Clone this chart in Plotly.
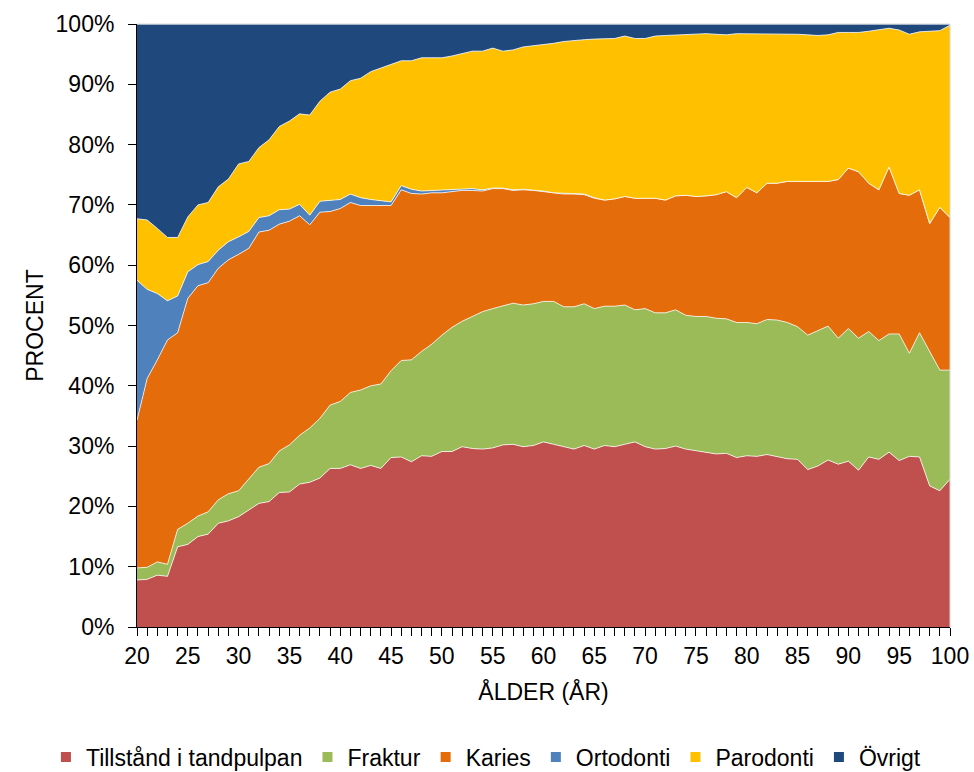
import plotly.graph_objects as go

ages = list(range(20, 101))

tillstand = [7.8, 7.9, 8.6, 8.4, 13.3, 13.7, 15.0, 15.4, 17.2, 17.6,
             18.3, 19.4, 20.5, 20.8, 22.3, 22.4, 23.7, 24.0, 24.7, 26.3,
             26.3, 26.9, 26.3, 26.8, 26.3, 28.1, 28.2, 27.4, 28.4, 28.3,
             29.1, 29.1, 29.9, 29.6, 29.5, 29.7, 30.2, 30.3, 29.9, 30.1,
             30.7, 30.3, 29.9, 29.5, 30.1, 29.5, 30.1, 29.9, 30.3, 30.7,
             29.9, 29.5, 29.6, 30.0, 29.5, 29.2, 29.0, 28.7, 28.8, 28.1,
             28.4, 28.3, 28.6, 28.2, 27.9, 27.8, 26.1, 26.7, 27.7, 27.0,
             27.5, 26.0, 28.2, 27.8, 29.0, 27.6, 28.3, 28.2, 23.4, 22.6,
             24.5]
fraktur = [2.0, 2.0, 2.2, 2.0, 2.9, 3.5, 3.4, 3.7, 3.9, 4.5,
           4.3, 5.1, 6.0, 6.3, 6.9, 7.8, 8.1, 9.0, 9.9, 10.5,
           11.1, 12.0, 13.0, 13.2, 14.0, 14.4, 16.0, 16.9, 17.3, 18.6,
           19.3, 20.6, 20.8, 21.9, 22.8, 23.1, 23.1, 23.4, 23.5, 23.5,
           23.3, 23.7, 23.2, 23.6, 23.5, 23.3, 23.1, 23.3, 23.1, 21.9,
           22.9, 22.6, 22.5, 22.6, 22.2, 22.3, 22.5, 22.5, 22.3, 22.4,
           22.1, 22.0, 22.4, 22.7, 22.6, 22.0, 22.3, 22.4, 22.2, 20.9,
           22.0, 21.9, 20.8, 19.7, 19.6, 21.0, 17.1, 20.6, 22.3, 20.0,
           18.1]
karies = [24.5, 31.3, 33.5, 37.2, 32.6, 37.3, 38.2, 38.0, 38.4, 38.8,
          39.2, 38.3, 39.0, 38.7, 37.6, 37.1, 36.4, 33.7, 34.2, 32.1,
          32.0, 31.5, 30.6, 29.9, 29.6, 27.4, 28.3, 27.6, 26.1, 25.1,
          23.6, 22.5, 21.7, 20.9, 20.0, 19.9, 19.4, 18.7, 19.1, 18.8,
          18.2, 17.9, 18.7, 18.7, 18.1, 18.3, 17.6, 17.8, 18.0, 18.5,
          18.3, 19.0, 18.7, 18.9, 19.9, 19.9, 20.0, 20.5, 21.1, 20.7,
          22.4, 21.7, 22.6, 22.7, 23.4, 24.1, 25.5, 24.8, 24.0, 26.3,
          26.6, 27.6, 24.6, 25.0, 27.7, 23.3, 26.2, 23.7, 21.2, 27.0,
          25.3]
ortodonti = [23.2, 14.8, 11.0, 6.5, 6.1, 4.4, 3.5, 3.5, 3.0, 3.0,
             2.9, 2.8, 2.4, 2.4, 2.4, 2.0, 1.9, 1.6, 1.8, 1.9,
             1.5, 1.4, 1.3, 1.0, 0.8, 0.6, 0.7, 0.7, 0.5, 0.4,
             0.4, 0.3, 0.3, 0.3, 0.2, 0.1, 0.1, 0.1, 0.1, 0.1,
             0.1, 0.1, 0.1, 0.1, 0.1, 0.1, 0.0, 0.0, 0.0, 0.0,
             0.0, 0.0, 0.0, 0.0, 0.0, 0.0, 0.0, 0.0, 0.0, 0.0,
             0.0, 0.0, 0.0, 0.0, 0.0, 0.0, 0.0, 0.0, 0.0, 0.0,
             0.0, 0.0, 0.0, 0.0, 0.0, 0.0, 0.0, 0.0, 0.0, 0.0,
             0.0]
parodonti = [10.2, 11.5, 10.8, 10.5, 9.7, 9.1, 9.9, 9.8, 10.5, 10.4,
             12.1, 11.6, 11.6, 12.6, 13.8, 14.6, 15.0, 16.6, 16.6, 17.9,
             18.3, 18.8, 19.8, 21.2, 22.0, 22.8, 20.7, 21.3, 22.1, 22.0,
             22.0, 22.2, 22.4, 22.8, 23.0, 23.2, 22.7, 23.2, 23.6, 23.9,
             24.2, 24.8, 25.2, 25.4, 25.6, 26.3, 26.8, 26.6, 26.6, 26.5,
             26.5, 26.9, 27.3, 26.7, 26.7, 26.9, 26.9, 26.6, 26.0, 27.2,
             25.5, 26.4, 24.8, 24.8, 24.4, 24.4, 24.3, 24.2, 24.3, 24.4,
             22.5, 23.1, 25.2, 26.5, 23.0, 27.1, 26.7, 26.2, 31.9, 29.3,
             31.9]
ovrigt = [32.3, 32.5, 33.9, 35.4, 35.4, 32.0, 30.0, 29.6, 27.0, 25.7,
          23.2, 22.8, 20.5, 19.2, 17.0, 16.1, 14.9, 15.1, 12.8, 11.3,
          10.8, 9.4, 9.0, 7.9, 7.3, 6.7, 6.1, 6.1, 5.6, 5.6,
          5.6, 5.3, 4.9, 4.5, 4.5, 4.0, 4.5, 4.3, 3.8, 3.6,
          3.5, 3.2, 2.9, 2.7, 2.6, 2.5, 2.4, 2.4, 2.0, 2.4,
          2.4, 2.0, 1.9, 1.8, 1.7, 1.7, 1.6, 1.7, 1.8, 1.6,
          1.6, 1.6, 1.6, 1.6, 1.7, 1.7, 1.8, 1.9, 1.8, 1.4,
          1.4, 1.4, 1.2, 1.0, 0.7, 1.0, 1.7, 1.3, 1.2, 1.1,
          0.2]

series = [
    ("Tillstånd i tandpulpan", tillstand, "#C0504D"),
    ("Fraktur", fraktur, "#9BBB59"),
    ("Karies", karies, "#E46C0A"),
    ("Ortodonti", ortodonti, "#4F81BD"),
    ("Parodonti", parodonti, "#FFC000"),
    ("Övrigt", ovrigt, "#1F497D"),
]

font = "Arial, Liberation Sans, sans-serif"
fsize = 23

fig = go.Figure()
for name, vals, col in series:
    fig.add_trace(go.Scatter(
        x=ages, y=vals, name=name, showlegend=False,
        mode="lines", stackgroup="one", groupnorm="percent",
        fillcolor=col,
        line=dict(width=1, color="rgba(255,255,255,0.75)"),
    ))

# legend entries as small squares, like the original
for name, vals, col in series:
    fig.add_trace(go.Scatter(
        x=[None], y=[None], name=name, mode="markers",
        marker=dict(symbol="square", size=10, color=col),
    ))

fig.update_layout(
    width=974, height=772,
    margin=dict(l=137, r=24, t=24, b=145, autoexpand=False),
    paper_bgcolor="white", plot_bgcolor="white",
    font=dict(family=font, size=fsize, color="#000000"),
    legend=dict(orientation="h", x=-0.112, xanchor="left", y=-0.2156, yanchor="middle",
                font=dict(size=fsize), itemwidth=30, traceorder="normal"),
    xaxis=dict(
        range=[20, 100], dtick=5, tick0=20,
        showgrid=False, zeroline=False,
        showline=True, linecolor="black", linewidth=1,
        ticks="outside", ticklen=8, tickcolor="black",
        minor=dict(dtick=1, ticks="outside", ticklen=8, tickcolor="black"),
        ticklabelstandoff=0,
        title=dict(text="ÅLDER (ÅR)", font=dict(size=fsize), standoff=16),
    ),
    yaxis=dict(
        range=[0, 100], dtick=10, ticksuffix="%",
        showgrid=False, zeroline=False,
        showline=True, linecolor="black", linewidth=1,
        ticks="outside", ticklen=8, tickcolor="black",
        ticklabelstandoff=9,
        title=dict(text="PROCENT", font=dict(size=fsize), standoff=5),
    ),
    shapes=[
        dict(type="line", xref="paper", yref="paper", x0=0, x1=1, y0=1, y1=1,
             line=dict(color="#D9D9D9", width=1), layer="above"),
        dict(type="line", xref="paper", yref="paper", x0=1, x1=1, y0=0, y1=1,
             line=dict(color="#D9D9D9", width=1), layer="above"),
    ],
)

fig.write_html("out.html", config={"displayModeBar": False},
               post_script="document.body.style.margin='0';")
